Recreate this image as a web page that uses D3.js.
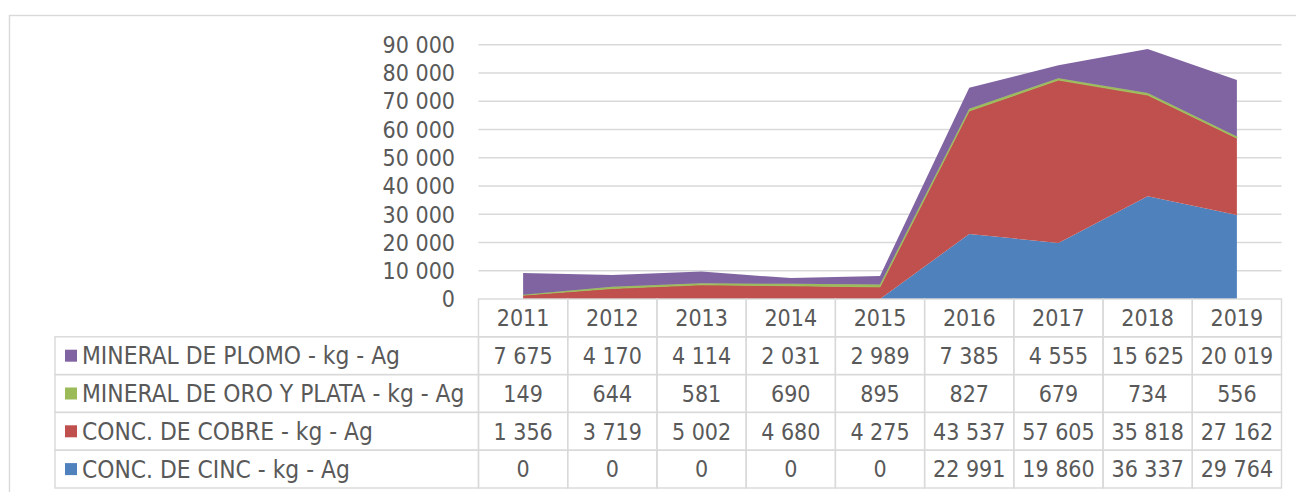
<!DOCTYPE html>
<meta charset="utf-8">
<head>
<title>Plata por producto 2011-2019</title>
<style>
body { margin: 0; background: #fff; }
text { font-family: "DejaVu Sans Condensed", "DejaVu Sans", sans-serif; font-stretch: condensed; fill: #595959; }
.grid line { stroke: #d9d9d9; stroke-width: 1.4px; }
.cell { fill: none; stroke: #d9d9d9; stroke-width: 1.4px; }
</style>
</head>
<body>
<script src="https://cdn.jsdelivr.net/npm/d3@7"></script>
<div id="chart"></div>
<script>

var years = ["2011", "2012", "2013", "2014", "2015", "2016", "2017", "2018", "2019"];
var seriesNames = ["CONC. DE CINC - kg - Ag", "CONC. DE COBRE - kg - Ag", "MINERAL DE ORO Y PLATA - kg - Ag", "MINERAL DE PLOMO - kg - Ag"];
var cinc   = [0, 0, 0, 0, 0, 22991, 19860, 36337, 29764];
var cobre  = [1356, 3719, 5002, 4680, 4275, 43537, 57605, 35818, 27162];
var oro    = [149, 644, 581, 690, 895, 827, 679, 734, 556];
var plomo  = [7675, 4170, 4114, 2031, 2989, 7385, 4555, 15625, 20019];
var yTicks = [0, 10000, 20000, 30000, 40000, 50000, 60000, 70000, 80000, 90000];
var colors = ["#4f81bd", "#c0504d", "#9bbb59", "#8064a2"];

var width = 1296, height = 492;
var fontSize = 23;
var labelSize = 24.3;

var fmt = d3.formatLocale({decimal: ",", thousands: " ", grouping: [3], currency: ["", ""]}).format(",d");

var rows = years.map(function (y, i) {
  return {year: y, s0: cinc[i], s1: cobre[i], s2: oro[i], s3: plomo[i]};
});
var keys = ["s0", "s1", "s2", "s3"];
var stacked = d3.stack().keys(keys)(rows);

var svg = d3.select('#chart').append('svg')
    .attr('width', width)
    .attr('height', height);

// outer frame
svg.append('rect')
    .attr('x', 9.5).attr('y', 15.5)
    .attr('width', 1320).attr('height', 520)
    .attr('fill', 'none').attr('stroke', '#d9d9d9').attr('stroke-width', 1.4);

var x = d3.scaleBand().domain(years).range([478.5, 1281.5]).padding(0);
var y = d3.scaleLinear().domain([0, 90000]).range([299, 44.7]);

var grid = svg.append('g').attr('class', 'grid');
grid.selectAll('line')
    .data(yTicks.filter(function (d) { return d > 0; }))
    .enter().append('line')
    .attr('x1', x.range()[0]).attr('x2', x.range()[1])
    .attr('y1', function (d) { return y(d); })
    .attr('y2', function (d) { return y(d); });

svg.append('g').selectAll('text')
    .data(yTicks)
    .enter().append('text')
    .attr('x', 455)
    .attr('y', function (d) { return y(d); })
    .attr('dy', '0.36em')
    .attr('text-anchor', 'end')
    .style('font-size', fontSize + 'px')
    .text(function (d) { return fmt(d); });

var area = d3.area()
    .x(function (d) { return x(d.data.year) + x.bandwidth() / 2; })
    .y0(function (d) { return y(d[0]); })
    .y1(function (d) { return y(d[1]); });

svg.append('g').selectAll('path')
    .data(stacked)
    .enter().append('path')
    .attr('d', area)
    .attr('fill', function (d, i) { return colors[i]; })
    .attr('stroke', function (d, i) { return i === 2 ? colors[2] : 'none'; })
    .attr('stroke-width', 0.8);

// data table
var rowH = 37.8;
var headTop = 299;
var labelLeft = 55;
var tableRows = [3, 2, 1, 0]; // top to bottom: plomo, oro, cobre, cinc
var seriesData = [cinc, cobre, oro, plomo];

var table = svg.append('g');

// header cells
table.selectAll('.head')
    .data(years)
    .enter().append('rect')
    .attr('class', 'cell')
    .attr('x', function (d) { return x(d); })
    .attr('y', headTop)
    .attr('width', x.bandwidth())
    .attr('height', rowH);

table.selectAll('.headtext')
    .data(years)
    .enter().append('text')
    .attr('x', function (d) { return x(d) + x.bandwidth() / 2; })
    .attr('y', headTop + rowH / 2)
    .attr('dy', '0.36em')
    .attr('text-anchor', 'middle')
    .style('font-size', fontSize + 'px')
    .text(function (d) { return d; });

tableRows.forEach(function (s, r) {
  var top = headTop + rowH * (r + 1);
  var g = table.append('g');
  g.append('rect')
      .attr('class', 'cell')
      .attr('x', labelLeft).attr('y', top)
      .attr('width', x.range()[0] - labelLeft).attr('height', rowH);
  g.append('rect')
      .attr('x', 65).attr('y', top + rowH / 2 - 6)
      .attr('width', 12).attr('height', 12)
      .attr('fill', colors[s]);
  g.append('text')
      .attr('x', 82).attr('y', top + rowH / 2)
      .attr('dy', '0.36em')
      .style('font-size', labelSize + 'px')
      .text(seriesNames[s]);
  g.selectAll('rect.v')
      .data(years)
      .enter().append('rect')
      .attr('class', 'cell v')
      .attr('x', function (d) { return x(d); })
      .attr('y', top)
      .attr('width', x.bandwidth())
      .attr('height', rowH);
  g.selectAll('text.v')
      .data(seriesData[s])
      .enter().append('text')
      .attr('class', 'v')
      .attr('x', function (d, i) { return x(years[i]) + x.bandwidth() / 2; })
      .attr('y', top + rowH / 2)
      .attr('dy', '0.36em')
      .attr('text-anchor', 'middle')
      .style('font-size', fontSize + 'px')
      .text(function (d) { return fmt(d); });
});

</script>
</body>
